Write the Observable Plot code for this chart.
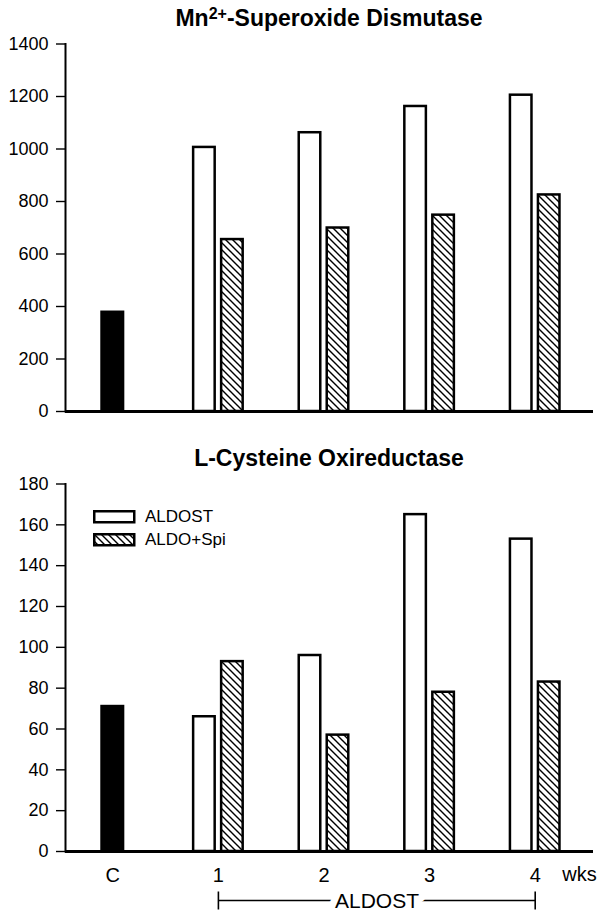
<!DOCTYPE html>
<html><head><meta charset="utf-8">
<script src="https://cdn.jsdelivr.net/npm/d3@7"></script>
<script src="https://cdn.jsdelivr.net/npm/@observablehq/plot@0.6"></script>
<style>
body{margin:0;background:#fff;font-family:"Liberation Sans",Arial,sans-serif;color:#000;}
#wrap{position:relative;width:602px;height:917px;overflow:hidden;background:#fff;}
.title{position:absolute;z-index:3;left:65px;width:528px;text-align:center;font-weight:bold;font-size:23px;line-height:26px;white-space:nowrap;}
.title sup{font-size:16px;line-height:0;vertical-align:0.42em;}
.chart{position:absolute;left:0;z-index:1;}
.legend{position:absolute;z-index:3;left:93px;font-size:17px;line-height:18px;display:flex;align-items:center;gap:9px;}
.legend svg{display:block;}
[aria-label^="x-axis"] text{font-size:20px;}
[aria-label="y-axis"] .domain, [aria-label="frame"]{stroke-width:2px;}
[aria-label="y-axis"] .tick line, [aria-label="y-axis tick"]{stroke-width:1.4px;}
</style>
</head><body>
<svg width="0" height="0" style="position:absolute">
  <defs>
    <pattern id="hatch" patternUnits="userSpaceOnUse" width="7" height="7">
      <rect width="7" height="7" fill="white"/>
      <path d="M-1,-1 L8,8 M-1,6 L1,8 M6,-1 L8,1" stroke="black" stroke-width="1.4"/>
    </pattern>
  </defs>
</svg>
<div id="wrap">
  <div class="title" style="top:5px">Mn<sup>2+</sup>-Superoxide Dismutase</div>
  <div class="chart" id="c1" style="top:0px"></div>
  <div class="title" style="top:445px">L-Cysteine Oxireductase</div>
  <div class="chart" id="c2" style="top:440px"></div>
  <div class="legend" style="top:508px"><svg width="43" height="14"><rect x="1.25" y="1.25" width="40" height="11" fill="white" stroke="black" stroke-width="2.5"/></svg><span>ALDOST</span></div>
  <div class="legend" style="top:531px"><svg width="43" height="14"><rect x="1.25" y="1.25" width="40" height="11" fill="url(#hatch)" stroke="black" stroke-width="2.5"/></svg><span>ALDO+Spi</span></div>
</div>
<script>
const categories = ["C", "1", "2", "3", "4"];
const weeks = ["1", "2", "3", "4"];
const sodControl = 378;
const sodAldost = [1006, 1062, 1162, 1205];
const sodAldoSpi = [655, 699, 748, 825];
const sodTicks = [0, 200, 400, 600, 800, 1000, 1200, 1400];
const lcoControl = 71;
const lcoAldost = [66, 96, 165, 153];
const lcoAldoSpi = [93, 57, 78, 83];
const lcoTicks = [0, 20, 40, 60, 80, 100, 120, 140, 160, 180];
const unitLabel = "wks";
const bracketLabel = "ALDOST";

const vline = {draw(ctx, size) { const r = Math.sqrt(size / Math.PI); ctx.moveTo(0, -r); ctx.lineTo(0, r); }};

function makeChart({control, aldost, spi, ticks, height, marginTop, marginBottom, showX}) {
  const ctrl = [{cat: "C", v: control}];
  const a = weeks.map((w, i) => ({cat: w, v: aldost[i]}));
  const s = weeks.map((w, i) => ({cat: w, v: spi[i]}));
  const marks = [
    Plot.barY(ctrl, {x: "cat", y: "v", fill: "black", stroke: "black", strokeWidth: 2.5}),
    Plot.barY(a, {x: "cat", y: "v", fill: "white", stroke: "black", strokeWidth: 2.5, dx: -14}),
    Plot.barY(s, {x: "cat", y: "v", fill: "url(#hatch)", stroke: "black", strokeWidth: 2.5, dx: 14}),
    Plot.ruleY([0], {stroke: "black", strokeWidth: 3})
  ];
  if (showX) {
    const br = [{from: weeks[0], to: weeks[weeks.length - 1], mid: weeks[1], label: bracketLabel}];
    marks.push(
      Plot.text([unitLabel], {text: d => d, frameAnchor: "bottom-right", textAnchor: "middle", lineAnchor: "middle", dx: -14, dy: 23, fontSize: 20}),
      Plot.link(br, {x1: "from", x2: "to", y1: 0, y2: 0, dy: 49, stroke: "black", strokeWidth: 1.6}),
      Plot.dot([br[0].from, br[0].to], {x: d => d, frameAnchor: "bottom", dy: 49, symbol: vline, r: 9, stroke: "black", strokeWidth: 1.6, fill: "none"}),
      Plot.text(br, {x: "mid", text: "label", frameAnchor: "bottom", lineAnchor: "middle", dx: 53, dy: 50, fontSize: 21, fill: "white", stroke: "white", strokeWidth: 14}),
      Plot.text(br, {x: "mid", text: "label", frameAnchor: "bottom", lineAnchor: "middle", dx: 53, dy: 50, fontSize: 21, fill: "black"})
    );
  }
  return Plot.plot({
    width: 602, height, marginLeft: 65, marginRight: 9, marginTop, marginBottom,
    style: {fontFamily: "Liberation Sans, Arial, sans-serif", fontSize: "18px", color: "black", background: "transparent", overflow: "visible"},
    x: {domain: categories, paddingInner: 0.796, paddingOuter: 0.398, align: 0.4346, round: false,
        axis: showX ? "bottom" : null, tickSize: 0, tickPadding: 16, label: null},
    y: {domain: [0, ticks[ticks.length - 1]], ticks, tickSize: 9, tickPadding: 8, label: null, line: true, tickFormat: d => String(d)},
    marks
  });
}

document.getElementById("c1").append(makeChart({control: sodControl, aldost: sodAldost, spi: sodAldoSpi, ticks: sodTicks, height: 430, marginTop: 43.5, marginBottom: 19, showX: false}));
document.getElementById("c2").append(makeChart({control: lcoControl, aldost: lcoAldost, spi: lcoAldoSpi, ticks: lcoTicks, height: 477, marginTop: 43.5, marginBottom: 66, showX: true}));
</script>
</body></html>
